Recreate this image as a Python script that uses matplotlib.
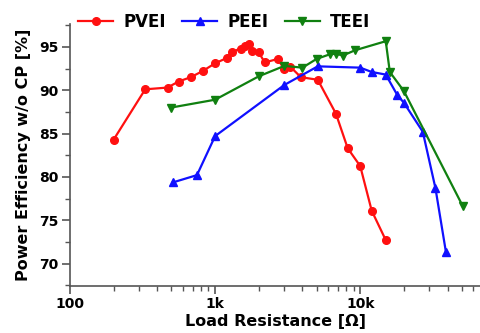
import matplotlib.pyplot as plt
from matplotlib.ticker import FixedLocator, FixedFormatter, MultipleLocator, LogLocator, NullFormatter

# load resistance [ohm] and efficiency [%]
pvei_r = [200, 330, 470, 560, 680, 820, 1000, 1200, 1300, 1500, 1600, 1700, 1800, 2000,
          2200, 2700, 3000, 3300, 3900, 5100, 6800, 8200, 10000, 12000, 15000]
pvei_eff = [84.3, 90.1, 90.3, 91.0, 91.5, 92.2, 93.1, 93.7, 94.4, 94.8, 95.15, 95.3, 94.5, 94.35,
            93.2, 93.6, 92.4, 92.7, 91.5, 91.2, 87.3, 83.3, 81.25, 76.1, 72.7]

peei_r = [510, 750, 1000, 3000, 5100, 10000, 12000, 15000, 18000, 20000, 27000, 33000, 39000]
peei_eff = [79.35, 80.2, 84.7, 90.6, 92.75, 92.6, 92.1, 91.8, 89.45, 88.55, 85.2, 78.7, 71.3]

teei_r = [500, 1000, 2000, 3000, 4000, 5000, 6200, 6800, 7600, 9200, 15000, 16000, 20000, 51000]
teei_eff = [88.0, 88.9, 91.6, 92.8, 92.6, 93.6, 94.15, 94.2, 94.0, 94.6, 95.65, 92.1, 89.9, 76.6]

plt.rcParams['font.family'] = ['DejaVu Sans']
plt.rcParams['font.weight'] = 'bold'

fig = plt.figure(figsize=(4.81, 3.33), dpi=100)
ax = fig.add_axes([0.1455, 0.141, 0.8545, 0.786])

ax.plot(pvei_r, pvei_eff, color='#ff1010', lw=1.6, marker='o', ms=5.5, label='PVEI')
ax.plot(peei_r, peei_eff, color='#1010ff', lw=1.6, marker='^', ms=6, label='PEEI')
ax.plot(teei_r, teei_eff, color='#108010', lw=1.6, marker='v', ms=6, label='TEEI')

ax.set_xscale('log')
ax.set_xlim(100, 68000)
ax.set_ylim(67.4, 97.6)

ax.xaxis.set_major_locator(FixedLocator([100, 1000, 10000]))
ax.xaxis.set_major_formatter(FixedFormatter(['100', '1k', '10k']))
ax.xaxis.set_minor_locator(LogLocator(base=10, subs=range(2, 10)))
ax.xaxis.set_minor_formatter(NullFormatter())
ax.yaxis.set_major_locator(MultipleLocator(5))
ax.yaxis.set_minor_locator(MultipleLocator(2.5))

for s in ['top', 'right']:
    ax.spines[s].set_visible(False)
for s in ['left', 'bottom']:
    ax.spines[s].set_color('#555555')
    ax.spines[s].set_linewidth(1.2)

ax.tick_params(which='major', direction='out', length=6, width=1.2, color='#555555',
               labelsize=10, pad=2)
ax.tick_params(which='minor', direction='out', length=3.5, width=1.0, color='#555555')

ax.set_xlabel('Load Resistance [Ω]', fontsize=11.5, fontweight='bold', labelpad=2)
ax.set_ylabel('Power Efficiency w/o CP [%]', fontsize=11.5, fontweight='bold', labelpad=6)

fig.legend(loc='center', bbox_to_anchor=(0.466, 0.934), ncol=3, frameon=False,
           handlelength=2.1, handletextpad=0.6, columnspacing=1.0,
           prop={'weight': 'bold', 'size': 12})

fig.savefig('out.png', dpi=100)
